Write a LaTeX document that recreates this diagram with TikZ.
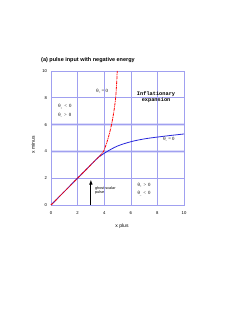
\documentclass[tikz,border=0pt]{standalone}
\usepackage{fontspec}
\setmainfont{Liberation Sans}
\newfontfamily\cour{Liberation Mono}
\newfontfamily\serif{Liberation Serif}
\usetikzlibrary{arrows.meta}
\definecolor{gridc}{RGB}{160,160,240}
\definecolor{gridpale}{RGB}{222,222,250}
\definecolor{bluec}{RGB}{40,40,220}
\newcommand\thsub[1]{{\serif θ}\raisebox{-1.3bp}{\fontsize{3bp}{3bp}\selectfont#1}}
\tikzset{
  tick/.style={font=\fontsize{4.2bp}{5bp}\selectfont, inner sep=0pt},
  lab/.style={font=\fontsize{4.8bp}{6.2bp}\selectfont\serif, inner sep=0pt, align=center},
  gridline/.style={gridc, line width=0.6bp},
  paleline/.style={gridpale, line width=2.6bp},
}
\begin{document}
\begin{tikzpicture}[x=1bp,y=1bp]
\useasboundingbox (0,0) rectangle (240,311);
\fill[white] (0,0) rectangle (240,311);
\node[anchor=west, inner sep=0pt, font=\fontsize{5.5bp}{6bp}\selectfont\bfseries] (title) at (41,251) {(a) pulse input with negative energy};
\node[inner sep=0pt, font=\fontsize{5bp}{5bp}\selectfont] (xlab) at (122,85) {x plus};
\node[inner sep=0pt, rotate=90, font=\fontsize{5bp}{5bp}\selectfont] (ylab) at (33,166) {x minus};
\begin{scope}[shift={(51,106)}, x=13.3bp, y=13.4bp]
  % grid
  \draw[paleline] (0,4) -- (10,4);
  \draw[paleline] (0,6) -- (10,6);
  \foreach \v in {2,4,6,8} {
    \draw[gridline] (\v,0) -- (\v,10);
    \draw[gridline] (0,\v) -- (10,\v);
  }
  \draw[gridc, line width=1.2bp] (8,0) -- (8,10);
  \draw[gridc, line width=0.8bp] (0,0) rectangle (10,10);
  % ticks
  \foreach \v in {0,2,4,6,8,10} {
    \node[tick, anchor=east] (yt\v) at (-0.28,\v) {\v};
    \node[tick] (xt\v) at (\v,-0.58) {\v};
  }
  % curves
  \draw[bluec, line width=0.8bp] plot[smooth, tension=0.6] coordinates
    {(0,0) (3.3,3.3) (3.7,3.65) (4.2,3.98) (5,4.4) (6,4.72) (7,4.93) (8,5.07) (9,5.19) (10,5.3)};
  \draw[red, line width=0.8bp, dash pattern=on 3bp off 0.8bp on 0.8bp off 0.8bp] plot[smooth, tension=0.6] coordinates
    {(0,0) (3.4,3.4) (3.7,3.68) (3.95,4) (4.3,5) (4.55,6) (4.73,7) (4.86,8) (4.93,9) (4.98,10)};
  % arrow
  \coordinate (abase) at (3,0.02);
  \coordinate (atip) at (3,1.9);
  \draw[-{Latex[length=5bp,width=3.6bp]}, line width=0.9bp] (abase) -- (atip);
  \node[lab, anchor=west, align=left, font=\fontsize{3.8bp}{4.4bp}\selectfont] (ghost) at (3.3,1.1) {ghost scalar\\pulse};
  % labels
  \node[lab] (tp) at (3.85,8.5) {\thsub{+} = 0};
  \node[lab, align=left] (left) at (1.05,7.02) {\thsub{+} \,<\, 0\\[2bp]\thsub{–} \,>\, 0};
  \node[lab, font=\fontsize{5.3bp}{4.4bp}\selectfont\cour\bfseries] (infl) at (7.9,8.08) {Inflationary\\expansion};
  \node[lab] (tm) at (8.87,4.9) {\thsub{–} = 0};
  \node[lab, align=left] (right) at (7.0,1.15) {\thsub{+} \,>\, 0\\[2bp]\thsub{–} \,<\, 0};
\end{scope}
\end{tikzpicture}
\end{document}
